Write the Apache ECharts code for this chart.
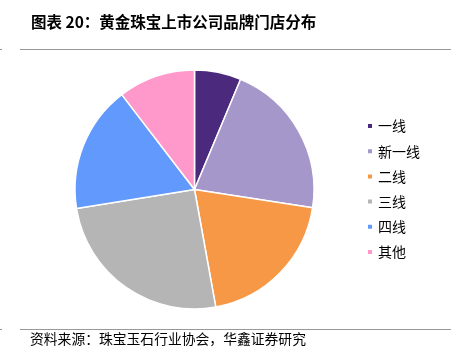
<!DOCTYPE html>
<html><head><meta charset="utf-8">
<script src="https://cdn.jsdelivr.net/npm/echarts@6/dist/echarts.min.js"></script>
<style>html,body{margin:0;padding:0;background:#fff}#c{width:464px;height:359px}</style>
</head><body><div id="c"></div>
<script>
const categories = ['一线','新一线','二线','三线','四线','其他'];
const values = [6.3, 21.1, 19.7, 25.3, 17.1, 10.4];
const colors = ['#4B2A7E','#A697CB','#F69846','#B5B5B5','#6299FC','#FF99CC'];
const titleText = '图表 20：黄金珠宝上市公司品牌门店分布';
const sourceText = '资料来源：珠宝玉石行业协会，华鑫证券研究';

const chart = echarts.init(document.getElementById('c'), null, {renderer:'canvas'});
chart.setOption({
  animation:false,
  backgroundColor:'#fff',
  title:{text:titleText,left:26,top:9,textStyle:{fontFamily:'Noto Sans CJK SC',fontSize:15.5,fontWeight:'bold',color:'#000'}},
  legend:{orient:'vertical',left:361,top:114,itemWidth:6,itemHeight:6,itemGap:11.2,icon:'rect',
    textStyle:{fontFamily:'Noto Sans CJK SC',fontSize:14,color:'#000',padding:[0,0,0,0]},
    data:categories},
  graphic:[
    {type:'line',shape:{x1:20,y1:49.5,x2:451,y2:49.5},style:{stroke:'#999',lineWidth:1}},
    {type:'line',shape:{x1:0,y1:49.5,x2:2,y2:49.5},style:{stroke:'#999',lineWidth:1}},
    {type:'line',shape:{x1:20,y1:329.5,x2:451,y2:329.5},style:{stroke:'#999',lineWidth:1}},
    {type:'line',shape:{x1:0,y1:329.5,x2:2,y2:329.5},style:{stroke:'#999',lineWidth:1}},
    {type:'text',left:30,top:331.5,style:{text:sourceText,font:'13.8px "Noto Sans CJK SC"',fill:'#000'}}
  ],
  series:[{
    type:'pie',center:[194.5,189.5],radius:[0,119.5],startAngle:90,clockwise:true,
    label:{show:false},labelLine:{show:false},
    itemStyle:{borderColor:'#fff',borderWidth:1.5},
    emphasis:{disabled:true},
    data:categories.map((c,i)=>({name:c,value:values[i],itemStyle:{color:colors[i]}}))
  }]
});
</script></body></html>
